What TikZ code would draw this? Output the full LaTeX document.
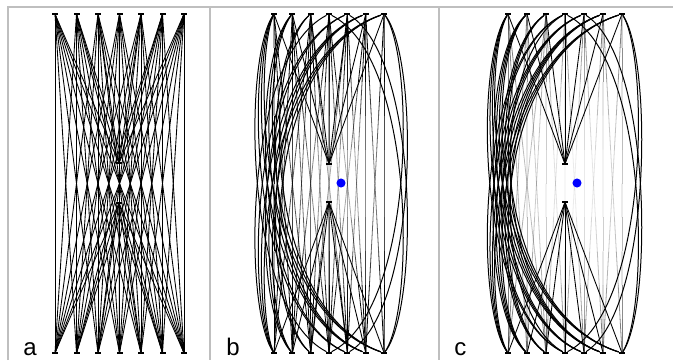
\documentclass[tikz,border=0pt]{standalone}
\usepackage{fontspec}
\setmainfont{Liberation Sans}
\usepackage{tikz}
\usetikzlibrary{calc}
\tikzstyle{port}     = [rectangle, fill=black, inner sep=0pt,
                        minimum width=4.5pt, minimum height=1.6pt]
\tikzstyle{wire}     = [line width=0.65pt, draw=black]
\tikzstyle{bentwire} = [line width=0.75pt, draw=black]
\tikzstyle{ghost}    = [line width=0.6pt, draw=black]
\tikzstyle{focus}    = [circle, fill=blue, inner sep=0pt, minimum size=6.8pt]
\tikzstyle{divider}  = [draw=black!25, line width=1.5pt]
\tikzstyle{tag}      = [anchor=base west, inner sep=0pt,
                        font=\fontsize{18}{20}\selectfont]
\begin{document}
\begin{tikzpicture}[x=0.75pt, y=-0.75pt]
  \useasboundingbox[fill=white] (0,0) rectangle (673,360);
  \draw[divider] (8,360) -- (8,7) -- (673,7);
  \draw[divider] (210,7) -- (210,360);
  \draw[divider] (439,7) -- (439,360);

  % panel a
  \foreach \i in {1,...,7}{
    \pgfmathsetmacro{\xx}{55+(\i-1)*21.5}
    \node[port] (at\i) at (\xx,14) {};
    \node[port] (ab\i) at (\xx,353) {};
  }
  \node[port] (am1) at (119,163) {};
  \node[port] (am2) at (119,203) {};
  \foreach \i in {1,...,7}{
    \foreach \j in {1,...,7}
      \draw[wire] (at\i) -- (ab\j);
    \draw[wire] (at\i) -- (am1);
    \draw[wire] (am2) -- (ab\i);
  }
  \node[tag] (la) at (23,355) {a};

  % panel b
  \foreach \i in {1,...,7}{
    \pgfmathsetmacro{\xx}{274+(\i-1)*18.35}
    \node[port] (bt\i) at (\xx,14) {};
    \node[port] (bb\i) at (\xx,353) {};
  }
  \node[port] (bm1) at (329,164) {};
  \node[port] (bm2) at (329,202) {};
  \foreach \i in {1,...,7}{
    \foreach \j in {1,...,7}{
      \pgfmathsetmacro{\dd}{274+(\i+\j-2)*9.175-341}
      \pgfmathtruncatemacro{\isbent}{abs(\dd)<40 && abs(\i-\j)>=((\dd)<10 ? 3 : 2) ? 1 : 0}
      \ifnum\isbent=1
        % bent around the focus
        \pgfmathsetmacro{\xn}{(\dd)<10 ? 341-56-0.55*(10-(\dd)) : 341+50+0.6*(\dd)}
        \pgfmathsetmacro{\cx}{(8*\xn-548-(\i+\j-2)*18.35)/6}
        \draw[bentwire] (bt\i) .. controls (\cx,58) and (\cx,309) .. (bb\j);
      \else
        % straight, faded near the focus
        \foreach \s in {0,...,9}{
          \pgfmathsetmacro{\ta}{\s/10}
          \pgfmathsetmacro{\tb}{(\s+1)/10}
          \pgfmathsetmacro{\px}{274+(\i-1)*18.35+(\j-\i)*18.35*(\s+0.5)/10}
          \pgfmathsetmacro{\py}{14+339*(\s+0.5)/10}
          \pgfmathsetmacro{\op}{0.3+0.7*min(1,veclen(\px-341,(\py-183)/1.7)/75)^1.5}
          \draw[ghost, draw opacity=\op] ($(bt\i)!\ta!(bb\j)$) -- ($(bt\i)!\tb!(bb\j)$);
        }
      \fi
    }
    \draw[wire] (bt\i) -- (bm1);
    \draw[wire] (bm2) -- (bb\i);
  }
  \node[focus] (bdot) at (341,183) {};
  \node[tag] (lb) at (226,355) {b};

  % panel c
  \foreach \i in {1,...,7}{
    \pgfmathsetmacro{\xx}{508+(\i-1)*19}
    \node[port] (ct\i) at (\xx,14) {};
    \node[port] (cb\i) at (\xx,353) {};
  }
  \node[port] (cm1) at (565,164) {};
  \node[port] (cm2) at (565,202) {};
  \foreach \i in {1,...,7}{
    \foreach \j in {1,...,7}{
      \pgfmathsetmacro{\dd}{508+(\i+\j-2)*9.5-577}
      \pgfmathtruncatemacro{\isbent}{abs(\dd)<49 && abs(\i-\j)>=2 ? 1 : 0}
      \ifnum\isbent=1
        % bent around the focus
        \pgfmathsetmacro{\xn}{(\dd)<10 ? 577-64-0.45*(10-(\dd)) : 577+50+0.5*(\dd)}
        \pgfmathsetmacro{\cx}{(8*\xn-1016-(\i+\j-2)*19)/6}
        \draw[bentwire] (ct\i) .. controls (\cx,58) and (\cx,309) .. (cb\j);
      \else
        % straight, faded more strongly
        \foreach \s in {0,...,9}{
          \pgfmathsetmacro{\ta}{\s/10}
          \pgfmathsetmacro{\tb}{(\s+1)/10}
          \pgfmathsetmacro{\px}{508+(\i-1)*19+(\j-\i)*19*(\s+0.5)/10}
          \pgfmathsetmacro{\py}{14+339*(\s+0.5)/10}
          \pgfmathsetmacro{\op}{0.5*(0.12+0.88*min(1,veclen(\px-577,(\py-183)/1.7)/90)^1.5)}
          \draw[ghost, draw opacity=\op] ($(ct\i)!\ta!(cb\j)$) -- ($(ct\i)!\tb!(cb\j)$);
        }
      \fi
    }
    \draw[wire] (ct\i) -- (cm1);
    \draw[wire] (cm2) -- (cb\i);
  }
  \node[focus] (cdot) at (577,183) {};
  \node[tag] (lc) at (454,355) {c};
\end{tikzpicture}
\end{document}
